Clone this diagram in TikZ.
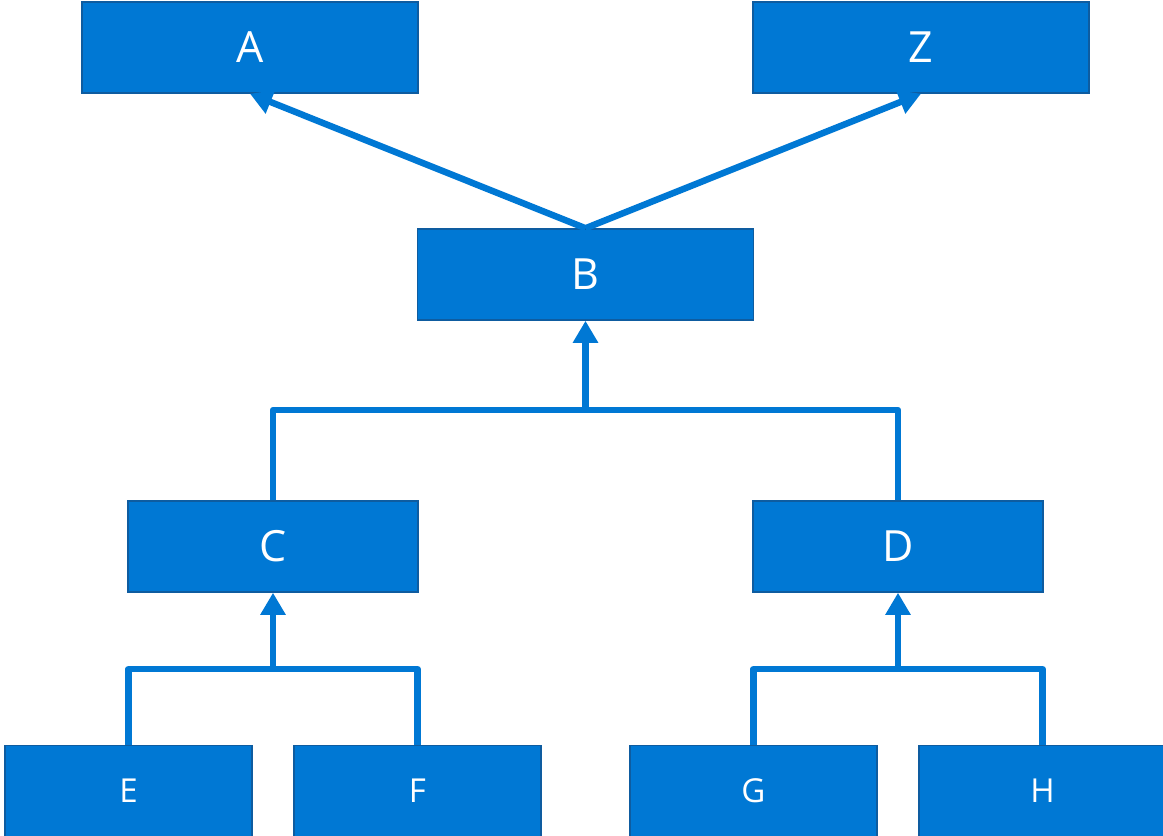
\documentclass[tikz,border=0pt]{standalone}
\usepackage{fontspec}
\setmainfont{Open Sans}
\usetikzlibrary{positioning}
\usetikzlibrary{arrows.meta}
\definecolor{boxblue}{RGB}{0,120,212}
\definecolor{boxedge}{RGB}{14,92,160}

\begin{document}
\begin{tikzpicture}[
            x = 1pt, y = -1pt, % pixel grid of the drawing
            > = {Triangle[width=24pt,length=22pt]}, % arrow head style
            box/.style = {draw = boxedge, line width = 1.5pt, fill = boxblue,
                text = white, inner sep = 0pt, minimum height = 91pt},
            topbox/.style = {box, minimum width = 336pt, font = \fontsize{43}{48}\selectfont},
            midbox/.style = {box, minimum width = 290pt, font = \fontsize{43}{48}\selectfont},
            leafbox/.style = {box, minimum width = 247pt, font = \fontsize{33}{38}\selectfont},
            link/.style = {draw = boxblue, line width = 6.5pt, line join = round}
        ]

        \useasboundingbox (0,0) rectangle (1163,836);

        \node[topbox] (A) at (250,47.5) {A};
        \node[topbox] (Z) at (921,47.5) {Z};
        \node[topbox] (B) at (585.5,274.5) {B};

        \node[midbox] (C) at (273,546.5) {C};
        \node[midbox] (D) at (898,546.5) {D};

        \node[leafbox] (E) at (128.5,791) {E};
        \node[leafbox] (F) at (417.5,791) {F};
        \node[leafbox] (G) at (753.5,791) {G};
        \node[leafbox] (H) at (1042.5,791) {H};

        % junctions of the brackets
        \coordinate (jB) at (585.5,410);
        \coordinate (jC) at (273,669);
        \coordinate (jD) at (898,669);

        \draw[link,->] (B.north) -- (A.south);
        \draw[link,->] (B.north) -- (Z.south);

        \draw[link] (C.north) |- (jB) -| (D.north);
        \draw[link,->] (jB) -- (B.south);

        \draw[link] (E.north) |- (jC) -| (F.north);
        \draw[link,->] (jC) -- (C.south);

        \draw[link] (G.north) |- (jD) -| (H.north);
        \draw[link,->] (jD) -- (D.south);

  \end{tikzpicture}
\end{document}
